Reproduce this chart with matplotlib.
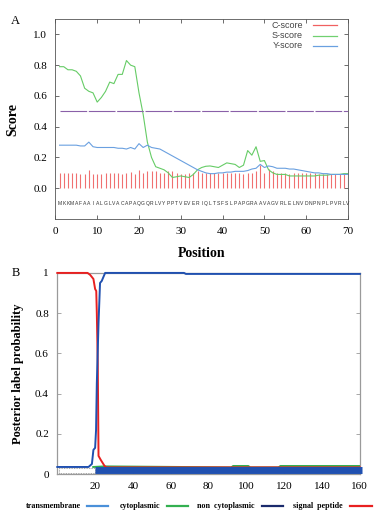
import matplotlib
matplotlib.use('Agg')
import matplotlib.pyplot as plt
from matplotlib.lines import Line2D
from matplotlib.patches import Rectangle

# ---------------- Panel A data (SignalP) ----------------
seq = "MKKMAFAAIALGLVACAPAQGQRLVYPPTVEVERIQLTSFSLPAPGRAAVAGVRLELNVDNPNPLPVRLV"
pos = list(range(1, 71))

c_score = [0.10, 0.10, 0.10, 0.10, 0.10, 0.095, 0.095, 0.12, 0.095, 0.095,
           0.095, 0.10, 0.10, 0.10, 0.10, 0.095, 0.10, 0.105, 0.095, 0.12,
           0.10, 0.115, 0.11, 0.11, 0.10, 0.10, 0.115, 0.11, 0.10, 0.095,
           0.095, 0.10, 0.10, 0.11, 0.10, 0.10, 0.10, 0.10, 0.10, 0.10,
           0.10, 0.10, 0.10, 0.10, 0.095, 0.10, 0.10, 0.11, 0.148, 0.10,
           0.125, 0.11, 0.10, 0.10, 0.10, 0.095, 0.10, 0.10, 0.10, 0.10,
           0.10, 0.10, 0.095, 0.095, 0.095, 0.095, 0.095, 0.095, 0.095, 0.095]

s_score = [0.79, 0.79, 0.77, 0.77, 0.76, 0.73, 0.65, 0.63, 0.62, 0.56,
           0.59, 0.63, 0.69, 0.68, 0.74, 0.74, 0.83, 0.80, 0.79, 0.62,
           0.48, 0.30, 0.20, 0.14, 0.13, 0.12, 0.10, 0.07, 0.075, 0.08,
           0.075, 0.07, 0.09, 0.12, 0.135, 0.143, 0.145, 0.14, 0.135, 0.15,
           0.165, 0.16, 0.155, 0.135, 0.15, 0.245, 0.215, 0.27, 0.175, 0.18,
           0.12, 0.10, 0.09, 0.09, 0.09, 0.08, 0.08, 0.08, 0.08, 0.08,
           0.08, 0.08, 0.085, 0.085, 0.085, 0.09, 0.09, 0.09, 0.095, 0.095]

y_score = [0.28, 0.28, 0.28, 0.28, 0.28, 0.275, 0.275, 0.30, 0.27, 0.265,
           0.265, 0.265, 0.265, 0.265, 0.26, 0.26, 0.255, 0.265, 0.255, 0.29,
           0.265, 0.28, 0.265, 0.26, 0.255, 0.24, 0.225, 0.21, 0.195, 0.18,
           0.165, 0.15, 0.135, 0.12, 0.11, 0.10, 0.095, 0.095, 0.10, 0.10,
           0.105, 0.105, 0.11, 0.11, 0.11, 0.115, 0.125, 0.13, 0.155, 0.135,
           0.145, 0.14, 0.13, 0.13, 0.13, 0.125, 0.125, 0.12, 0.115, 0.11,
           0.105, 0.10, 0.10, 0.095, 0.095, 0.09, 0.09, 0.09, 0.09, 0.09]

cutoff = 0.5

# ---------------- Panel B data (Phobius) ----------------
sp_x = [0, 16, 17.4, 19.1, 20, 20.6, 20.9, 21.4, 21.8, 23, 25, 26, 160]
sp_y = [1.0, 1.0, 0.99, 0.97, 0.92, 0.91, 0.80, 0.55, 0.09, 0.07, 0.04, 0.033, 0.033]

nc_x = [0, 16.5, 18.3, 19.1, 20, 20.5, 20.9, 21.8, 22.6, 23.5, 25.3, 67, 68, 160]
nc_y = [0.035, 0.035, 0.05, 0.12, 0.13, 0.22, 0.45, 0.75, 0.95, 0.96, 1.0, 1.0, 0.995, 0.995]

cy_x = [19, 25, 92, 93, 101, 102, 117, 118, 160]
cy_y = [0.035, 0.038, 0.033, 0.04, 0.04, 0.033, 0.033, 0.04, 0.04]

sp_region = (1, 20)
nc_region = (20, 161)

serif = ['Liberation Serif', 'DejaVu Serif']
sans = ['Liberation Sans', 'DejaVu Sans']
plt.rcParams['font.family'] = serif
edge = '#9a9a9a'

fig = plt.figure(figsize=(3.82, 5.13), dpi=100)

# ================= Panel A =================
ax1 = fig.add_axes([0.145, 0.573, 0.766, 0.390])
ax1.vlines(pos, 0, c_score, color='#f07070', lw=0.8)
ax1.plot(pos, s_score, color='#66cc66', lw=0.8)
ax1.plot(pos, y_score, color='#6aa0e0', lw=0.8)
ax1.plot([1, 70], [cutoff, cutoff], color='#8a60a8', lw=0.8, ls=(0, (24, 1.5)))
for p, ch in zip(pos, seq):
    ax1.text(p, -0.1, ch, fontsize=3.6, family=sans, color='#333333',
             ha='center', va='center')
ax1.set_xlim(0, 70)
ax1.set_ylim(-0.2, 1.1)
ax1.set_xticks(range(0, 71, 10))
ax1.set_yticks([0.0, 0.2, 0.4, 0.6, 0.8, 1.0])
ax1.set_yticklabels(['0.0', '0.2', '0.4', '0.6', '0.8', '1.0'])
ax1.tick_params(direction='in', length=3, width=0.6, color='#555555',
                labelsize=8, top=True, right=True, pad=6)
for s in ax1.spines.values():
    s.set_color('#555555')
    s.set_linewidth(0.6)
ax1.set_xlabel('Position', fontsize=10, fontweight='bold', labelpad=8)
ax1.set_ylabel('Score', fontsize=10, fontweight='bold', labelpad=10)

# legend (gnuplot style: text then sample)
leg = [('C-score', '#f06060'), ('S-score', '#70d070'), ('Y-score', '#6aa0e0')]
for i, (lab, col) in enumerate(leg):
    yy = 1 - (25 + i * 10.5) / 513
    fig.text(303 / 382, yy, lab, fontsize=6.5, family=sans, color='#444444',
             ha='right', va='center')
    fig.add_artist(Line2D([313 / 382, 337 / 382], [yy, yy], color=col, lw=0.9))

# ================= Panel B =================
ax2 = fig.add_axes([0.150, 0.076, 0.792, 0.392])
ax2.plot(cy_x, cy_y, color='#33b050', lw=1.4, zorder=3)
ax2.plot(sp_x, sp_y, color='#e82020', lw=1.4, clip_on=False, zorder=3)
ax2.plot(nc_x, nc_y, color='#2050b0', lw=1.4, clip_on=False, zorder=3)
ax2.add_patch(Rectangle((sp_region[0], 0.007), sp_region[1] - sp_region[0], 0.024,
                        facecolor='white', edgecolor='#888888', lw=0.6,
                        ls=(0, (1, 1)), clip_on=False, zorder=4))
ax2.plot(nc_region, [0.018, 0.018], color='#2050b0', lw=5, solid_capstyle='butt',
         clip_on=False, zorder=5)
ax2.set_xlim(0, 160)
ax2.set_ylim(0, 1)
ax2.set_xticks(range(20, 161, 20))
ax2.set_yticks([0, 0.2, 0.4, 0.6, 0.8, 1])
ax2.set_yticklabels(['0', '0.2', '0.4', '0.6', '0.8', '1'])
ax2.tick_params(direction='in', length=3, width=0.6, color=edge,
                labelsize=8, right=True, pad=6)
for s in ax2.spines.values():
    s.set_color(edge)
    s.set_linewidth(0.9)
    s.set_zorder(2)
ax2.set_ylabel('Posterior label probability', fontsize=9, fontweight='bold',
               labelpad=8)

leg2 = [('transmembrane', 25.7, 86.7, '#4a90d9'),
        ('cytoplasmic', 120, 166.7, '#33b050'),
        ('non  cytoplasmic', 196.7, 261.7, '#1a2a6c'),
        ('signal  peptide', 292.7, 350, '#e82020')]
yy = 1 - 506 / 513
for lab, xt, xl, col in leg2:
    fig.text(xt / 382, yy, lab, fontsize=5.8, fontweight='bold', ha='left', va='center')
    fig.add_artist(Line2D([xl / 382, (xl + 21.5) / 382], [yy, yy], color=col, lw=1.6))

fig.text(15.7 / 382, 1 - 21 / 513, 'A', fontsize=9, ha='center', va='center')
fig.text(15.7 / 382, 1 - 273 / 513, 'B', fontsize=9, ha='center', va='center')

fig.savefig('out.png', dpi=100)
